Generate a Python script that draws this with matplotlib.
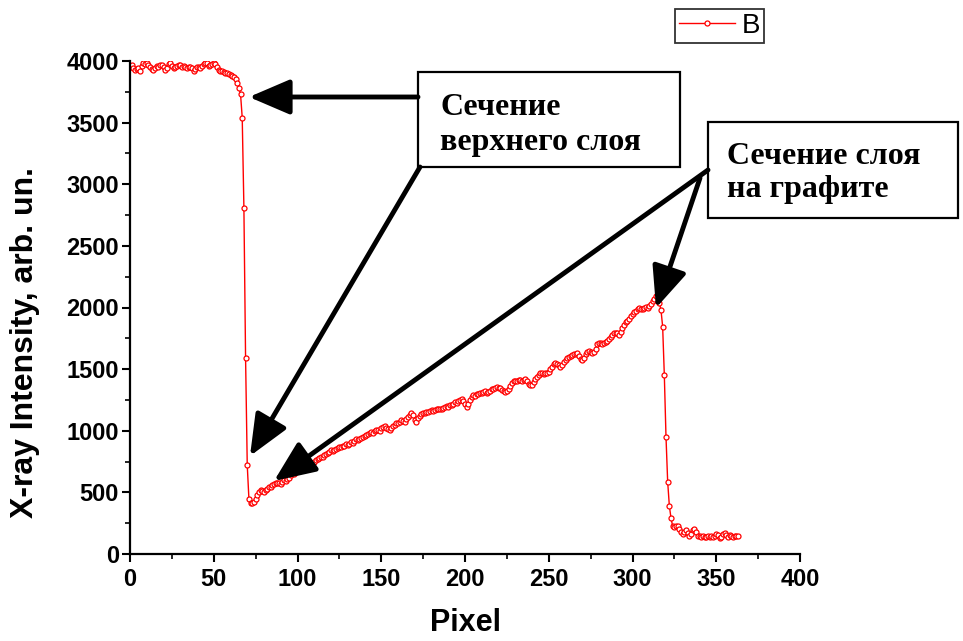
import matplotlib
matplotlib.use('Agg')
import matplotlib.pyplot as plt
from matplotlib.patches import Rectangle

# profile values, one per pixel (0..363)
intensity = [
    3950, 3965, 3940, 3925, 3935, 3945, 3915, 3960, 3980, 3975,
    3985, 3970, 3950, 3935, 3930, 3945, 3960, 3955, 3965, 3970,
    3950, 3930, 3945, 3975, 3980, 3960, 3945, 3950, 3960, 3970,
    3965, 3950, 3960, 3955, 3945, 3950, 3955, 3940, 3920, 3935,
    3950, 3955, 3945, 3960, 3975, 3985, 3980, 3960, 3965, 3975,
    3980, 3975, 3950, 3925, 3920, 3915, 3910, 3905, 3900, 3895,
    3890, 3880, 3870, 3850, 3820, 3780, 3730, 3540, 2810, 1590,
    720, 445, 415, 410, 425, 450, 480, 505, 520, 510,
    505, 520, 530, 540, 545, 560, 565, 575, 580, 575,
    570, 585, 600, 590, 610, 620, 640, 660, 650, 665,
    680, 700, 720, 735, 725, 705, 695, 700, 720, 740,
    750, 760, 770, 780, 790, 785, 800, 810, 820, 830,
    840, 835, 845, 850, 860, 870, 865, 875, 880, 890,
    885, 895, 905, 900, 920, 930, 925, 935, 945, 950,
    960, 965, 975, 980, 990, 985, 995, 1005, 1010, 1000,
    1020, 1030, 1035, 1025, 1015, 1010, 1020, 1040, 1050, 1060,
    1065, 1075, 1085, 1080, 1070, 1095, 1110, 1125, 1140, 1130,
    1090, 1075, 1100, 1120, 1135, 1140, 1145, 1150, 1155, 1160,
    1165, 1160, 1170, 1175, 1180, 1180, 1175, 1185, 1190, 1200,
    1195, 1205, 1210, 1220, 1230, 1225, 1240, 1250, 1255, 1245,
    1220, 1190, 1215, 1250, 1275, 1290, 1285, 1295, 1300, 1310,
    1305, 1315, 1320, 1310, 1315, 1325, 1335, 1340, 1350, 1355,
    1350, 1345, 1330, 1320, 1315, 1320, 1340, 1365, 1385, 1400,
    1405, 1400, 1410, 1415, 1405, 1410, 1420, 1400, 1380, 1370,
    1375, 1395, 1420, 1440, 1455, 1465, 1470, 1460, 1465, 1470,
    1480, 1500, 1520, 1540, 1550, 1545, 1530, 1520, 1535, 1560,
    1575, 1590, 1600, 1605, 1615, 1620, 1625, 1630, 1610, 1580,
    1570, 1590, 1620, 1640, 1645, 1635, 1630, 1635, 1660, 1700,
    1710, 1715, 1705, 1710, 1720, 1730, 1745, 1760, 1780, 1790,
    1795, 1790, 1780, 1800, 1830, 1860, 1880, 1890, 1910, 1935,
    1950, 1960, 1975, 1990, 1995, 1985, 1990, 2000, 2005, 2000,
    2010, 2030, 2050, 2070, 2090, 2070, 2040, 1980, 1845, 1450,
    950, 585, 390, 290, 225, 220, 230, 225, 200, 175,
    160, 180, 195, 170, 150, 165, 195, 200, 175, 150,
    145, 140, 145, 140, 135, 150, 140, 145, 135, 150,
    165, 155, 130, 140, 160, 170, 155, 140, 155, 145,
    140, 150, 145, 145,
]
pixel = list(range(len(intensity)))

# two lines per box
label_top = ["Сечение", "верхнего слоя"]
label_graphite = ["Сечение слоя", "на графите"]

W, H = 963, 641
fig = plt.figure(figsize=(W / 100, H / 100), dpi=100)
ax = fig.add_axes([130 / W, 1 - 554 / H, 670 / W, 493 / H])

ax.plot(pixel, intensity, color='red', lw=1.0, marker='o', markersize=3.6,
        markerfacecolor='white', markeredgecolor='red', markeredgewidth=0.9,
        label='B')

ax.set_xlim(0, 400)
ax.set_ylim(0, 4000)
ax.set_xticks(range(0, 401, 50))
ax.set_xticks(range(25, 400, 50), minor=True)
ax.set_yticks(range(0, 4001, 500))
ax.set_yticks(range(250, 4000, 500), minor=True)

for s in ('top', 'right'):
    ax.spines[s].set_visible(False)
for s in ('left', 'bottom'):
    ax.spines[s].set_linewidth(1.6)
ax.tick_params(which='major', direction='out', length=6, width=1.5)
ax.tick_params(which='minor', direction='out', length=3.6, width=1.2)
ax.tick_params(axis='y', which='major', pad=2)
ax.tick_params(axis='x', which='major', pad=4)
for lab in ax.get_xticklabels() + ax.get_yticklabels():
    lab.set_fontfamily('Liberation Sans')
    lab.set_fontweight('bold')
    lab.set_fontsize(17)

ax.set_xlabel('Pixel', fontfamily='Liberation Sans', fontweight='bold',
              fontsize=22, labelpad=12)
ax.set_ylabel('X-ray Intensity, arb. un.', fontfamily='Liberation Sans',
              fontweight='bold', fontsize=23)
ax.yaxis.set_label_coords(-0.135, 0.43)

leg = ax.legend(loc='upper left', bbox_to_anchor=(675 / W, 1 - 9 / H),
                bbox_transform=fig.transFigure, frameon=True, fancybox=False,
                handlelength=2.0, borderpad=0.15, handletextpad=0.25,
                borderaxespad=0, prop={'family': 'Liberation Sans', 'size': 20})
leg.get_frame().set_edgecolor('black')
leg.get_frame().set_linewidth(1.3)


def fp(x, y):
    # picture pixel -> figure fraction
    return (x / W, 1 - y / H)


# text boxes
for (x0, y0, x1, y1) in [(418, 72, 680, 167), (708, 122, 958, 218)]:
    fig.patches.append(Rectangle(fp(x0, y1), (x1 - x0) / W, (y1 - y0) / H,
                                 transform=fig.transFigure, fill=False,
                                 edgecolor='black', lw=1.6))

for txt, (x, y) in zip(label_top + label_graphite,
                       [(440, 115), (440, 150), (727, 164), (727, 197)]):
    fig.text(*fp(x, y), txt, fontfamily='Liberation Serif',
             fontweight='bold', fontsize=23, va='baseline')

# arrows: start, tip (picture pixels)
arrows = [((418, 97), (249, 97)),
          ((420, 167), (250, 456)),
          ((708, 170), (274, 481)),
          ((700, 178), (656, 308))]
for start, tip in arrows:
    ax.annotate('', xy=fp(*tip), xycoords='figure fraction',
                xytext=fp(*start), textcoords='figure fraction',
                arrowprops=dict(arrowstyle='-|>,head_length=1.4,head_width=0.6',
                                lw=3.5, color='black', shrinkA=0, shrinkB=0,
                                mutation_scale=18),
                annotation_clip=False)

fig.savefig('out.png', dpi=100)
